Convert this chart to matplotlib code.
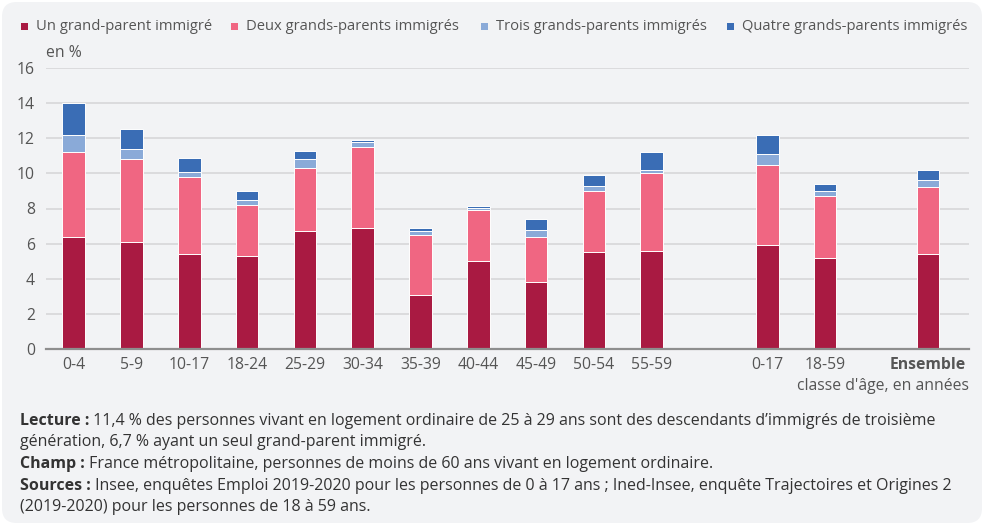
import matplotlib
matplotlib.use("Agg")
import matplotlib.pyplot as plt
from matplotlib.patches import FancyBboxPatch, Rectangle
import numpy as np

plt.rcParams['font.family'] = ['Open Sans', 'DejaVu Sans']

categories = ["0-4", "5-9", "10-17", "18-24", "25-29", "30-34", "35-39", "40-44",
              "45-49", "50-54", "55-59", "0-17", "18-59", "Ensemble"]
un = [6.4, 6.1, 5.4, 5.3, 6.7, 6.9, 3.1, 5.0, 3.8, 5.5, 5.6, 5.9, 5.2, 5.4]
deux = [4.8, 4.7, 4.4, 2.9, 3.6, 4.6, 3.4, 2.9, 2.6, 3.5, 4.4, 4.6, 3.5, 3.8]
trois = [1.0, 0.6, 0.3, 0.3, 0.5, 0.3, 0.2, 0.15, 0.4, 0.3, 0.2, 0.6, 0.3, 0.4]
quatre = [1.8, 1.1, 0.8, 0.5, 0.5, 0.1, 0.2, 0.1, 0.6, 0.6, 1.0, 1.1, 0.4, 0.6]
series_names = ["Un grand-parent immigré", "Deux grands-parents immigrés",
                "Trois grands-parents immigrés", "Quatre grands-parents immigrés"]
colors = ["#A91A42", "#F06682", "#8AAAD8", "#3A6DB5"]
yticks = [0, 2, 4, 6, 8, 10, 12, 14, 16]

W, H = 984, 525
fig = plt.figure(figsize=(W / 100, H / 100), dpi=100)
fig.patch.set_facecolor("white")
bg = FancyBboxPatch((2 / W, 2 / H), 1 - 4 / W, 1 - 4 / H,
                    boxstyle="round,pad=0,rounding_size=0.015",
                    transform=fig.transFigure, facecolor="#F2F3F5",
                    edgecolor="none", zorder=-10, mutation_aspect=W / H)
fig.patches.append(bg)

ax_l, ax_r, ax_b, ax_t = 46, 969, 349, 68
ax = fig.add_axes([ax_l / W, 1 - ax_b / H, (ax_r - ax_l) / W, (ax_b - ax_t) / H])
ax.set_facecolor("none")

x = np.array(list(range(11)) + [12, 13, 14.78])
width = 0.39
bottom = np.zeros(len(categories))
for vals, c, name in zip([un, deux, trois, quatre], colors, series_names):
    ax.bar(x, vals, width, bottom=bottom, color=c, edgecolor="white",
           linewidth=0.7, label=name, zorder=3)
    bottom += np.array(vals)

ax.set_ylim(0, 16)
ax.set_xlim(-0.48, 15.49)
ax.set_yticks(yticks)
ax.set_yticklabels([str(v) for v in yticks])
ax.yaxis.grid(True, color="#D4D4D6", linewidth=1.1, zorder=0)
ax.set_axisbelow(True)
for s in ["top", "right", "left"]:
    ax.spines[s].set_visible(False)
ax.spines["bottom"].set_color("#8E8E8E")
ax.spines["bottom"].set_linewidth(1.6)
ax.spines["bottom"].set_zorder(4)
ax.tick_params(axis="y", length=0, pad=8, labelsize=11.3, labelcolor="#555555")
ax.tick_params(axis="x", length=0, pad=6, labelsize=11.3, labelcolor="#555555")
ax.set_xticks(x)
ax.set_xticklabels(categories)
lbls = ax.get_xticklabels()
lbls[-1].set_fontweight("bold")

# en %
fig.text(46 / W, 1 - 53 / H, "en %", fontsize=11.3, color="#555555", va="center", ha="left")
# x axis title
fig.text(969 / W, 1 - 386 / H, "classe d'âge, en années", fontsize=11.3,
         color="#555555", ha="right", va="center")

# legend
leg_x = [21, 231, 481, 727]
for lx, c, name in zip(leg_x, colors, series_names):
    fig.patches.append(Rectangle((lx / W, 1 - 29.5 / H), 6.5 / W, 6.5 / H,
                                 transform=fig.transFigure, facecolor=c, edgecolor="none"))
    fig.text((lx + 15) / W, 1 - 26 / H, name, fontsize=10.6, color="#555555",
             va="center", ha="left")

# footnotes
fig.canvas.draw()
renderer = fig.canvas.get_renderer()
notes = [
    (421, "Lecture :", " 11,4 % des personnes vivant en logement ordinaire de 25 à 29 ans sont des descendants d\u2019immigrés de troisième"),
    (442, None, "génération, 6,7 % ayant un seul grand-parent immigré."),
    (464, "Champ :", " France métropolitaine, personnes de moins de 60 ans vivant en logement ordinaire."),
    (486, "Sources :", " Insee, enquêtes Emploi 2019-2020 pour les personnes de 0 à 17 ans ; Ined-Insee, enquête Trajectoires et Origines 2"),
    (507, None, "(2019-2020) pour les personnes de 18 à 59 ans."),
]
for ypx, bold, rest in notes:
    xpx = 20
    if bold:
        t = fig.text(xpx / W, 1 - ypx / H, bold, fontsize=11.55, fontweight="bold",
                     color="#333333", va="center", ha="left")
        bb = t.get_window_extent(renderer)
        xpx = bb.x1
    fig.text(xpx / W, 1 - ypx / H, rest, fontsize=11.55, color="#333333",
             va="center", ha="left")

fig.savefig("out.png", dpi=100, facecolor="white")
